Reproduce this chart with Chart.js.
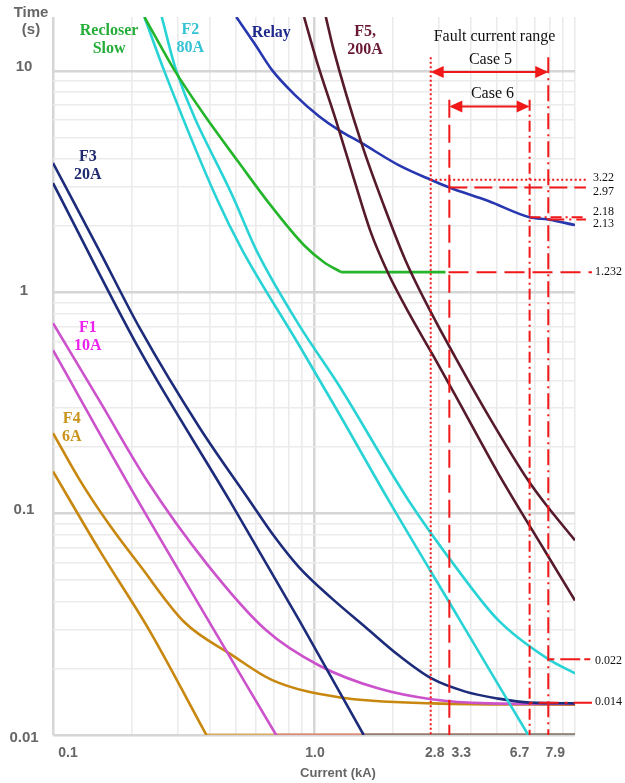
<!DOCTYPE html>
<html>
<head>
<meta charset="utf-8">
<script src="https://cdn.jsdelivr.net/npm/chart.js@4/dist/chart.umd.min.js"></script>
<style>
  html, body { margin: 0; padding: 0; background: #ffffff; }
  canvas { display: block; }
</style>
</head>
<body>
<canvas id="tcc" width="625" height="783"></canvas>
<script>
// Axis ranges (current in kA, time in s)
const currentRange = [0.1, 10];
const timeRange = [0.01, 17.5];

// Grid lines and labelled ticks
const xGridValues = [0.1, 0.2, 0.3, 0.4, 0.5, 0.6, 0.7, 0.8, 0.9, 1, 2, 3, 4, 5, 6, 7, 8, 9, 10];
const yGridValues = [0.01, 0.02, 0.03, 0.04, 0.05, 0.06, 0.07, 0.08, 0.09,
                     0.1, 0.2, 0.3, 0.4, 0.5, 0.6, 0.7, 0.8, 0.9,
                     1, 2, 3, 4, 5, 6, 7, 8, 9, 10];
const xTickLabels = ['0.1', '1.0', '2.8', '3.3', '6.7', '7.9'];
const yTickLabels = ['10', '1', '0.1', '0.01'];

// Time-current characteristics: [current kA, time s]
const f4Min = [[0.1, 0.155], [0.151, 0.068], [0.234, 0.0297], [0.387, 0.01]];
const f4Max = [[0.1, 0.231], [0.127, 0.141], [0.165, 0.0885], [0.215, 0.0584], [0.319, 0.0323],
               [0.487, 0.0229], [0.692, 0.0177], [1.245, 0.0148], [2.82, 0.0139], [10, 0.0137]];
const f1Min = [[0.1, 0.547], [0.191, 0.141], [0.364, 0.0385], [0.716, 0.01]];
const f1Max = [[0.1, 0.724], [0.151, 0.322], [0.229, 0.141], [0.387, 0.0596], [0.656, 0.0297],
               [1.046, 0.0206], [1.77, 0.0162], [2.82, 0.0145], [4.65, 0.0139], [10, 0.0138]];
const f3Min = [[0.1, 3.11], [0.215, 0.547], [0.474, 0.115], [0.877, 0.033], [1.55, 0.01]];
const f3Max = [[0.1, 3.83], [0.151, 1.53], [0.215, 0.688], [0.364, 0.245], [0.565, 0.115],
               [0.704, 0.079], [0.877, 0.0572], [1.17, 0.0414], [1.58, 0.0306], [2.11, 0.0229],
               [2.82, 0.018], [3.8, 0.0157], [5.08, 0.0146], [6.7, 0.014], [10, 0.0139]];
const f2Min = [[0.224, 17.5], [0.267, 9.97], [0.427, 2.6], [0.531, 1.55], [0.877, 0.576],
               [1.245, 0.284], [1.93, 0.115], [3.57, 0.034], [6.62, 0.01]];
const f2Max = [[0.261, 17.5], [0.297, 9.97], [0.496, 2.6], [0.601, 1.55], [0.877, 0.71],
               [1.245, 0.38], [2.3, 0.115], [3.57, 0.0554], [5.08, 0.033], [7.9, 0.022], [10, 0.019]];
const recloserInverse = [[0.224, 17.5], [0.256, 13.2], [0.292, 10.07], [0.38, 6.31], [0.517, 3.83],
                         [0.673, 2.52], [0.916, 1.63], [1.092, 1.366], [1.27, 1.232]];
const recloserDefinite = [[1.27, 1.232], [3.19, 1.232]];
const relay = [[0.504, 17.5], [0.59, 13.35], [0.691, 10.07], [0.846, 7.77], [1.045, 6.24], [1.245, 5.4],
               [1.525, 4.71], [2.11, 3.75], [2.8, 3.22], [3.3, 2.97], [4.66, 2.58], [6.7, 2.18],
               [7.9, 2.13], [10, 2.01]];
const f5Min = [[0.916, 17.5], [1.027, 10.95], [1.213, 5.99], [1.42, 3.27], [1.65, 1.867], [1.9, 1.257],
               [2.3, 0.812], [2.87, 0.514], [3.48, 0.342], [5.08, 0.152], [7.68, 0.0676], [10, 0.0405]];
const f5Max = [[1.11, 17.5], [1.19, 12.4], [1.52, 4.71], [1.85, 2.47], [2.24, 1.395], [2.87, 0.771],
               [3.48, 0.508], [4.65, 0.278], [6.62, 0.141], [7.68, 0.111], [10, 0.0757]];

// Fault current study values
const faultCurrents = [2.8, 3.3, 6.7, 7.9];      // case 5: 2.8-7.9 kA, case 6: 3.3-6.7 kA
const relayTimes = [3.22, 2.97, 2.18, 2.13];     // relay operating time at each fault current
const recloserTime = 1.232;
const f2TimeAtMax = 0.022;                        // F2 clearing time at 7.9 kA
const f3TimeAtCase6 = 0.014;                      // F3 clearing time at 6.7 kA

const COLORS = {
  f4: '#c8870f', f1: '#cc52cc', f3: '#1d2c7a', f2: '#28d3d6',
  recloser: '#24b52a', relay: '#2637b0', f5: '#561a2b', red: '#f01818'
};

const toXY = pts => pts.map(([i, t]) => ({ x: i, y: t }));
const floorOf = pts => [{ x: pts[pts.length - 1][0], y: timeRange[0] }, { x: currentRange[1], y: timeRange[0] }];

function curve(label, pts, color, width) {
  return {
    label, data: toXY(pts), borderColor: color, borderWidth: width || 2.6,
    pointRadius: 0, fill: false, cubicInterpolationMode: 'monotone'
  };
}
function floorLine(label, pts, color) {
  return { label, data: floorOf(pts), borderColor: color, borderWidth: 3, pointRadius: 0, fill: false, tension: 0 };
}

const datasets = [
  curve('F5 200A total clearing', f5Max, COLORS.f5),
  curve('F5 200A minimum melting', f5Min, COLORS.f5),
  curve('Relay', relay, COLORS.relay),
  curve('Recloser slow', recloserInverse, COLORS.recloser),
  { label: 'Recloser slow definite time', data: toXY(recloserDefinite), borderColor: COLORS.recloser,
    borderWidth: 2.6, pointRadius: 0, fill: false, tension: 0 },
  curve('F2 80A total clearing', f2Max, COLORS.f2),
  curve('F2 80A minimum melting', f2Min, COLORS.f2),
  curve('F3 20A total clearing', f3Max, COLORS.f3),
  curve('F3 20A minimum melting', f3Min, COLORS.f3),
  curve('F1 10A total clearing', f1Max, COLORS.f1),
  curve('F1 10A minimum melting', f1Min, COLORS.f1),
  curve('F4 6A total clearing', f4Max, COLORS.f4),
  curve('F4 6A minimum melting', f4Min, COLORS.f4),
  floorLine('F2 floor', f2Min, '#8a8a80'),
  floorLine('F3 floor', f3Min, '#8f7f7a'),
  floorLine('F1 floor', f1Min, '#e0897f'),
  floorLine('F4 floor', f4Min, '#d8a860')
];

// Device captions placed in data coordinates
const deviceLabels = [
  { lines: ['Recloser', 'Slow'], at: [0.164, 13.8], color: '#27ad3a' },
  { lines: ['F2', '80A'], at: [0.336, 13.9], color: '#33c3d3' },
  { lines: ['Relay'], at: [0.686, 14.8], color: '#202a8c' },
  { lines: ['F5,', '200A'], at: [1.57, 13.6], color: '#6a1a36' },
  { lines: ['F3', '20A'], at: [0.136, 3.71], color: '#1f2a70' },
  { lines: ['F1', '10A'], at: [0.136, 0.626], color: '#ee22ee' },
  { lines: ['F4', '6A'], at: [0.118, 0.245], color: '#c9941c' }
];

const isDecade = v => Math.abs(Math.log10(v) - Math.round(Math.log10(v))) < 1e-9;

const DOT = [2, 2.5];
const DASH = [18, 7];
const DASHDOT_FINE = [11, 4, 2, 4];
const DASHDOT = [16, 5, 2, 5];
const lineStyles = [DOT, DASH, DASHDOT_FINE, DASHDOT];

function strokeLine(ctx, x1, y1, x2, y2, dash, w) {
  ctx.save();
  ctx.strokeStyle = COLORS.red;
  ctx.lineWidth = w || 2;
  ctx.setLineDash(dash || []);
  ctx.beginPath();
  ctx.moveTo(x1, y1);
  ctx.lineTo(x2, y2);
  ctx.stroke();
  ctx.restore();
}
function arrow(ctx, xa, xb, y) {
  strokeLine(ctx, xa + 6, y, xb - 6, y, [], 2);
  ctx.save();
  ctx.fillStyle = COLORS.red;
  ctx.beginPath();
  ctx.moveTo(xa, y); ctx.lineTo(xa + 13, y - 6); ctx.lineTo(xa + 13, y + 6); ctx.closePath(); ctx.fill();
  ctx.beginPath();
  ctx.moveTo(xb, y); ctx.lineTo(xb - 13, y - 6); ctx.lineTo(xb - 13, y + 6); ctx.closePath(); ctx.fill();
  ctx.restore();
}

const overlay = {
  id: 'overlay',
  afterDatasetsDraw(chart) {
    const { ctx, chartArea: a, scales: { x, y } } = chart;
    const px = v => x.getPixelForValue(v);
    const py = v => y.getPixelForValue(v);

    // fault current verticals
    const tops = [11.5, 7.4, 7.4, 11.5];
    faultCurrents.forEach((c, i) => {
      strokeLine(ctx, px(c), py(tops[i]), px(c), a.bottom, lineStyles[i], 2);
    });
    // relay operating times
    const relayEnd = a.right + 11;
    faultCurrents.forEach((c, i) => {
      strokeLine(ctx, px(c), py(relayTimes[i]), relayEnd, py(relayTimes[i]), lineStyles[i], 2);
    });
    // recloser definite time and fuse clearing times
    const longEnd = a.right + 17;
    strokeLine(ctx, px(recloserDefinite[recloserDefinite.length - 1][0]) + 3, py(recloserTime), longEnd, py(recloserTime), [20, 8], 2);
    strokeLine(ctx, px(faultCurrents[3]), py(f2TimeAtMax), longEnd, py(f2TimeAtMax), [6, 6, 20, 4], 2);
    strokeLine(ctx, px(faultCurrents[2]), py(f3TimeAtCase6), longEnd, py(f3TimeAtCase6), [3, 6, 20, 6], 2);

    // case ranges
    const y5 = py(9.87), y6 = py(6.9);
    arrow(ctx, px(faultCurrents[0]), px(faultCurrents[3]), y5);
    arrow(ctx, px(faultCurrents[1]), px(faultCurrents[2]), y6);

    ctx.save();
    ctx.fillStyle = '#111';
    ctx.textAlign = 'center';
    ctx.textBaseline = 'middle';
    ctx.font = '16px "Liberation Serif", "Times New Roman", serif';
    const mid5 = (px(faultCurrents[0]) + px(faultCurrents[3])) / 2;
    const mid6 = (px(faultCurrents[1]) + px(faultCurrents[2])) / 2;
    ctx.fillText('Fault current range', mid5 + 5, 37);
    ctx.fillText('Case 5', mid5 + 1, y5 - 12);
    ctx.fillText('Case 6', mid6 + 3, y6 - 13);

    // right-hand value labels
    ctx.textAlign = 'left';
    ctx.font = '12px "Liberation Serif", "Times New Roman", serif';
    const relayOffsets = [-2, 4.5, -5, 4];
    relayTimes.forEach((t, i) => ctx.fillText(t.toFixed(2), a.right + 18, py(t) + relayOffsets[i]));
    ctx.fillText(String(recloserTime), a.right + 20, py(recloserTime));
    ctx.fillText(String(f2TimeAtMax), a.right + 20, py(f2TimeAtMax) + 2);
    ctx.fillText(String(f3TimeAtCase6), a.right + 20, py(f3TimeAtCase6) - 1);
    ctx.restore();
  },
  afterDraw(chart) {
    const { ctx, chartArea: a, scales: { x, y } } = chart;
    ctx.save();
    // device captions
    ctx.textAlign = 'center';
    ctx.textBaseline = 'middle';
    ctx.font = 'bold 16px "Liberation Serif", "Times New Roman", serif';
    deviceLabels.forEach(d => {
      const cx = x.getPixelForValue(d.at[0]);
      const cy = y.getPixelForValue(d.at[1]);
      ctx.fillStyle = d.color;
      const n = d.lines.length;
      d.lines.forEach((s, k) => ctx.fillText(s, cx, cy + (k - (n - 1) / 2) * 18));
    });

    // axis labels
    ctx.fillStyle = '#666666';
    ctx.font = 'bold 15px "Liberation Sans", Arial, sans-serif';
    const yOffsets = [-4, -1, -4, 3];
    yTickLabels.forEach((s, i) => ctx.fillText(s, 24, y.getPixelForValue(parseFloat(s)) + yOffsets[i]));
    ctx.fillText('Time', 31, 13);
    ctx.fillText('(s)', 31, 30);

    ctx.font = 'bold 14px "Liberation Sans", Arial, sans-serif';
    const xOffsets = [15, 1, 4, 12, -10, 7];
    xTickLabels.forEach((s, i) => ctx.fillText(s, x.getPixelForValue(parseFloat(s)) + xOffsets[i], a.bottom + 18));
    ctx.font = 'bold 13px "Liberation Sans", Arial, sans-serif';
    ctx.fillText('Current (kA)', 338, a.bottom + 38);
    ctx.restore();
  }
};

new Chart(document.getElementById('tcc'), {
  type: 'line',
  data: { datasets },
  plugins: [overlay],
  options: {
    responsive: false,
    animation: false,
    events: [],
    layout: { padding: { left: 53, right: 50, top: 17, bottom: 48 } },
    plugins: { legend: { display: false }, tooltip: { enabled: false } },
    scales: {
      x: {
        type: 'logarithmic', min: currentRange[0], max: currentRange[1],
        afterBuildTicks: s => { s.ticks = xGridValues.map(v => ({ value: v })); },
        ticks: { display: false },
        border: { display: false },
        grid: {
          drawTicks: false,
          color: c => (isDecade(c.tick.value) && c.tick.value < 10) ? '#d6d6d6' : '#ebebeb',
          lineWidth: c => (isDecade(c.tick.value) && c.tick.value < 10) ? 2.5 : 1.6
        }
      },
      y: {
        type: 'logarithmic', min: timeRange[0], max: timeRange[1],
        afterBuildTicks: s => { s.ticks = yGridValues.map(v => ({ value: v })); },
        ticks: { display: false },
        border: { display: false },
        grid: {
          drawTicks: false,
          color: c => isDecade(c.tick.value) ? '#d6d6d6' : '#ebebeb',
          lineWidth: c => isDecade(c.tick.value) ? 2.5 : 1.6
        }
      }
    }
  }
});
</script>
</body>
</html>
